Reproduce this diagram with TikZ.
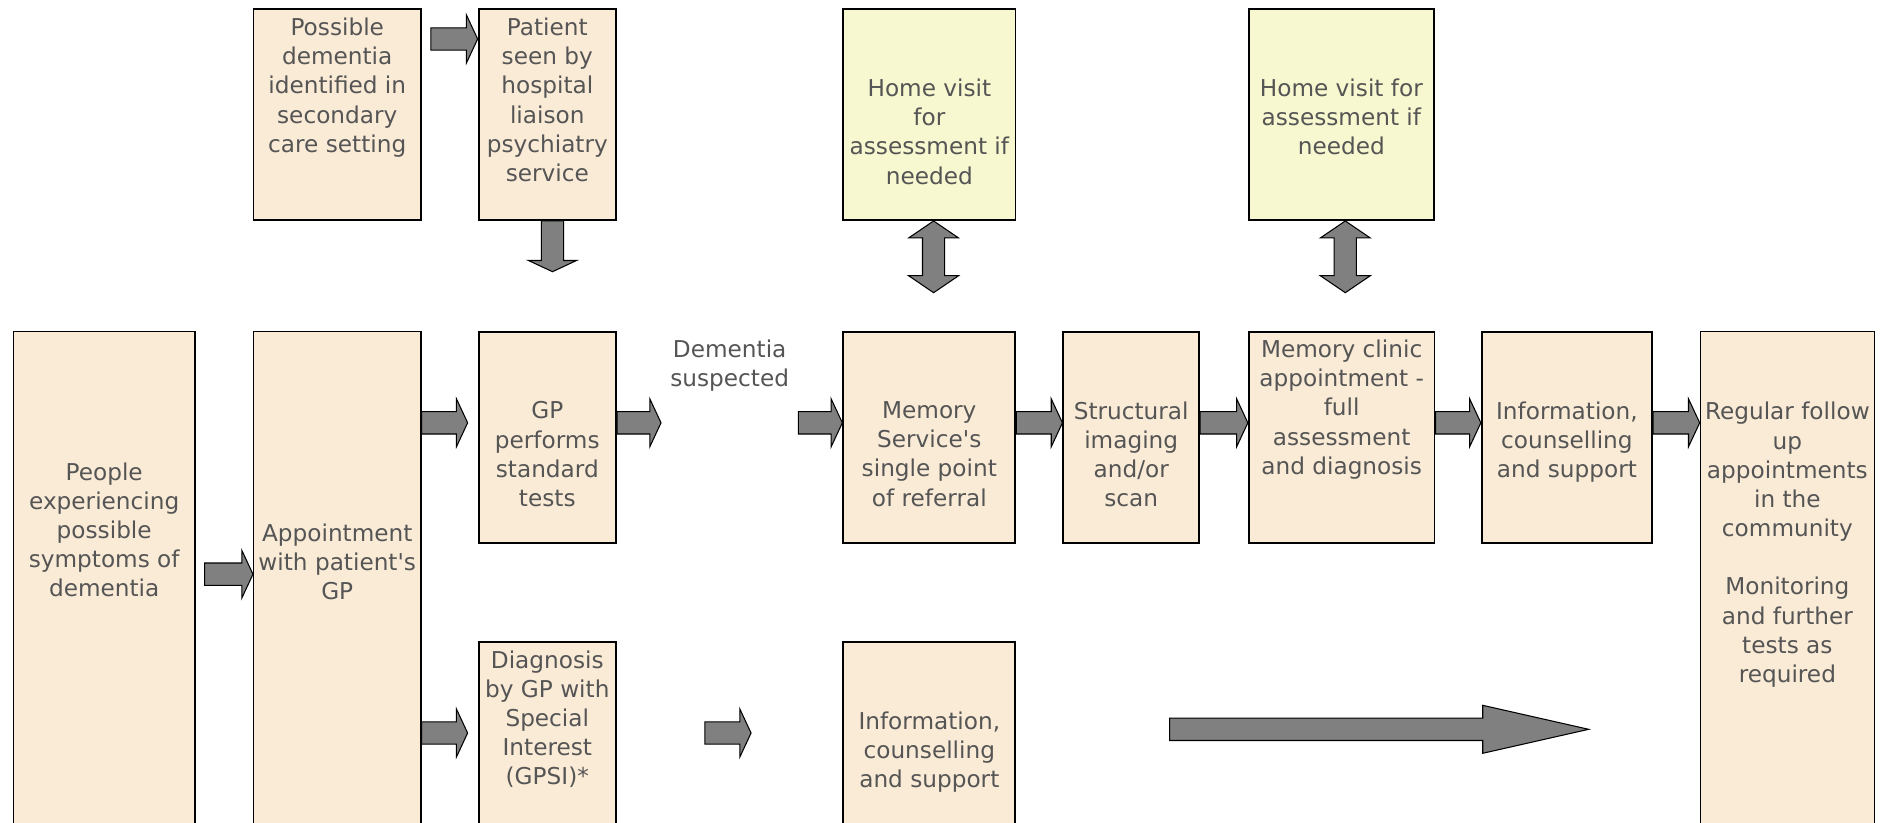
\documentclass[tikz,border=0pt]{standalone}
\usepackage{fontspec}
\setmainfont{DejaVu Sans}
\usepackage{tikz}
\usetikzlibrary{calc}
\definecolor{peach}{RGB}{250,235,215}
\definecolor{pale}{RGB}{248,248,208}
\definecolor{ink}{RGB}{85,85,85}
\definecolor{arrowgrey}{RGB}{128,128,128}
\newlength{\pu}
\setlength{\pu}{0.02cm}
\newcommand{\boxtext}[4]{\parbox[c][#2\pu][t]{#1\pu}{\centering\vspace*{#3\pu}#4\par}}
\tikzstyle{box}=[draw=black, line width=1.1pt, fill=peach, inner sep=0pt, text=ink, font=\fontsize{13.2}{16.6}\selectfont]
\tikzstyle{tallbox}=[box, line width=0.6pt]
\tikzstyle{homebox}=[box, fill=pale]
\tikzstyle{lbl}=[inner xsep=9\pu, inner ysep=0pt, align=center, text=ink, font=\fontsize{13.2}{16.6}\selectfont]
\tikzset{
	block/.style n args={3}{draw=black, line width=0.6pt, fill=arrowgrey,
		to path={-- ($(\tikztostart)!#1!90:(\tikztotarget)$)
			-- ($(\tikztotarget)!#3!(\tikztostart)!#1!-90:(\tikztostart)$)
			-- ($(\tikztotarget)!#3!(\tikztostart)!#2!-90:(\tikztostart)$)
			-- (\tikztotarget)
			-- ($(\tikztotarget)!#3!(\tikztostart)!#2!90:(\tikztostart)$)
			-- ($(\tikztotarget)!#3!(\tikztostart)!#1!90:(\tikztostart)$)
			-- ($(\tikztostart)!#1!-90:(\tikztotarget)$)
			-- cycle}},
	dblock/.style n args={3}{draw=black, line width=0.6pt, fill=arrowgrey,
		to path={-- ($(\tikztostart)!#3!(\tikztotarget)!#2!90:(\tikztotarget)$)
			-- ($(\tikztostart)!#3!(\tikztotarget)!#1!90:(\tikztotarget)$)
			-- ($(\tikztotarget)!#3!(\tikztostart)!#1!-90:(\tikztostart)$)
			-- ($(\tikztotarget)!#3!(\tikztostart)!#2!-90:(\tikztostart)$)
			-- (\tikztotarget)
			-- ($(\tikztotarget)!#3!(\tikztostart)!#2!90:(\tikztostart)$)
			-- ($(\tikztotarget)!#3!(\tikztostart)!#1!90:(\tikztostart)$)
			-- ($(\tikztostart)!#3!(\tikztotarget)!#1!-90:(\tikztotarget)$)
			-- ($(\tikztostart)!#3!(\tikztotarget)!#2!-90:(\tikztotarget)$)
			-- cycle}},
}
\tikzstyle{flow}=[block={0.224cm}{0.48cm}{0.224cm}]
\tikzstyle{bigflow}=[block={0.224cm}{0.48cm}{2.12cm}]
\tikzstyle{twoway}=[dblock={0.222cm}{0.5cm}{0.34cm}]

\begin{document}
\begin{tikzpicture}[x=0.02cm, y=-0.02cm]
	\useasboundingbox (0,0) rectangle (1890,822);
	\clip (0,0) rectangle (1890,822);

	%The secondary care route
	\draw (337.25,114.5) node[box] (poss) {\boxtext{167.5}{211}{9}{Possible\\dementia\\identified in\\secondary\\care setting}};
	\draw (547.3,114.5) node[box] (pat) {\boxtext{137.4}{211}{9}{Patient\\seen by\\hospital\\liaison\\psychiatry\\service}};

	%The home visits
	\draw (929.4,114.5) node[homebox] (home1) {\boxtext{172.2}{211}{70}{Home visit\\for\\assessment if\\needed}};
	\draw (1341.35,114.5) node[homebox] (home2) {\boxtext{185.3}{211}{70}{Home visit for\\assessment if\\needed}};

	%The main route
	\draw (104.2,585.85) node[tallbox] (people) {\boxtext{181.6}{508.3}{131}{People\\experiencing\\possible\\symptoms of\\dementia}};
	\draw (337.25,585.85) node[tallbox] (appt) {\boxtext{167.5}{508.3}{192}{Appointment\\with patient\textquotesingle s\\GP}};
	\draw (547.3,437.5) node[box] (gp) {\boxtext{137.4}{211.6}{70}{GP\\performs\\standard\\tests}};
	\draw (729.7,339.5) node[lbl, anchor=north] (susp) {Dementia\\suspected};
	\draw (929.3,437.5) node[box] (mem) {\boxtext{172}{211.6}{70}{Memory\\Service\textquotesingle s\\single point\\of referral}};
	\draw (1131.2,437.5) node[box] (struct) {\boxtext{135.6}{211.6}{70}{Structural\\imaging\\and/or\\scan}};
	\draw (1341.65,437.5) node[box] (clinic) {\boxtext{185.7}{211.6}{8.3}{Memory clinic\\appointment -\\full\\assessment\\and diagnosis}};
	\draw (1566.9,437.5) node[box] (info1) {\boxtext{170.2}{211.6}{70}{Information,\\counselling\\and support}};
	\draw (1787.35,585.85) node[tallbox] (reg) {\boxtext{174.3}{508.3}{70.6}{\makebox[0pt]{Regular follow}\\up\\appointments\\in the\\community\\[\baselineskip]Monitoring\\and further\\tests as\\required}};

	%The GPSI route
	\draw (547.3,740.85) node[box] (diag) {\boxtext{137.4}{198.3}{9}{Diagnosis\\by GP with\\Special\\Interest\\(GPSI)*}};
	\draw (929.3,740.85) node[box] (info2) {\boxtext{172}{198.3}{70}{Information,\\counselling\\and support}};

	%The arrows
	\coordinate (row0) at (0,39);
	\coordinate (row1) at (0,422.8);
	\coordinate (rowp) at (0,574.2);
	\coordinate (row2) at (0,733);
	\coordinate (row3) at (0,729.3);
	\coordinate (pd) at (552.5,271.7);
	\coordinate (hv1) at (933.6,292.7);
	\coordinate (hv2) at (1345.3,292.7);
	\coordinate (g1) at ($(gp.west |- row1)+(-10,0)$);
	\coordinate (g2) at ($(diag.west |- row2)+(-10,0)$);
	\coordinate (d1) at ($(diag.east |- row2)!0.39!(info2.west |- row2)$);
	\coordinate (d2) at ($(diag.east |- row2)!0.595!(info2.west |- row2)$);
	\coordinate (b1) at ($(info2.east |- row3)!0.2244!(reg.west |- row3)$);
	\coordinate (b2) at ($(info2.east |- row3)!0.8376!(reg.west |- row3)$);

	\draw[flow] ($(poss.east |- row0)+(9,0)$) to (pat.west |- row0);
	\draw[flow] (pat.south -| pd) to (pd);
	\draw[twoway] (home1.south -| hv1) to (hv1);
	\draw[twoway] (home2.south -| hv2) to (hv2);
	\draw[flow] ($(people.east |- rowp)+(9,0)$) to (appt.west |- rowp);
	\draw[flow] (appt.east |- row1) to (g1);
	\draw[flow] (gp.east |- row1) to (susp.west |- row1);
	\draw[flow] (susp.east |- row1) to (mem.west |- row1);
	\draw[flow] (mem.east |- row1) to (struct.west |- row1);
	\draw[flow] (struct.east |- row1) to (clinic.west |- row1);
	\draw[flow] (clinic.east |- row1) to (info1.west |- row1);
	\draw[flow] (info1.east |- row1) to (reg.west |- row1);
	\draw[flow] (appt.east |- row2) to (g2);
	\draw[flow] (d1) to (d2);
	\draw[bigflow] (b1) to (b2);
\end{tikzpicture}
\end{document}
